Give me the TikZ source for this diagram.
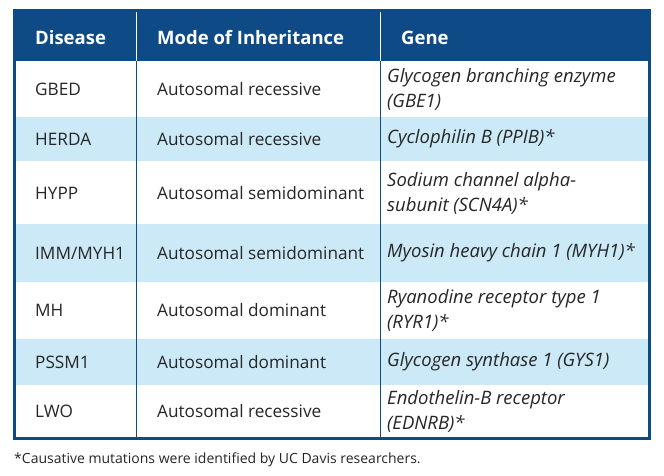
\documentclass[tikz,border=0pt]{standalone}
\usepackage{fontspec}
\setmainfont{Open Sans}
\definecolor{dblue}{HTML}{0E4A85}
\definecolor{lblue}{HTML}{CCE9F7}
\begin{document}
\begin{tikzpicture}[x=1pt,y=-1pt,
  cell/.style={anchor=west,font=\fontsize{17.2}{20}\selectfont,text=black!85,inner sep=0pt,align=left},
  head/.style={anchor=west,font=\fontsize{18.5}{20}\selectfont\bfseries,text=white,inner sep=0pt},
  gene/.style={cell,font=\fontsize{18.5}{25}\selectfont\itshape}]
\useasboundingbox (0,0) rectangle (664,476);
\fill[white] (0,0) rectangle (664,476);
\fill[dblue] (14,11) rectangle (650,61);
\fill[lblue] (14,117) rectangle (650,161);
\fill[lblue] (14,224) rectangle (650,282);
\fill[lblue] (14,339) rectangle (650,385);
\draw[dblue,line width=0.8pt] (136.5,11) -- (136.5,437) (380,11) -- (380,437);
\draw[white,line width=0.8pt] (136.5,11) -- (136.5,61) (380,11) -- (380,61);
\draw[dblue,line width=3pt] (14.5,11) rectangle (649.5,438);
\node[head] (h1) at (35,38) {Disease};
\node[head] (h2) at (157,38) {Mode of Inheritance};
\node[head] (h3) at (401,38) {Gene};
\foreach \y/\a/\b/\c [count=\i] in {
 89/GBED/Autosomal recessive/{Glycogen branching enzyme\\(GBE1)},
 139/HERDA/Autosomal recessive/{Cyclophilin B (PPIB)*},
 193/HYPP/Autosomal semidominant/{Sodium channel alpha-\\subunit (SCN4A)*},
 253/{IMM/MYH1}/Autosomal semidominant/{Myosin heavy chain 1 (MYH1)*},
 310/MH/Autosomal dominant/{Ryanodine receptor type 1\\(RYR1)*},
 362/PSSM1/Autosomal dominant/{Glycogen synthase 1 (GYS1)},
 411/LWO/Autosomal recessive/{Endothelin-B receptor\\(EDNRB)*}}{
  \node[cell] (d\i) at (35,\y) {\a};
  \node[cell] (m\i) at (157,\y) {\b};
  \node[gene] (g\i) at (387,\y) {\c};
}
\node[cell,font=\fontsize{14}{16}\selectfont] (fn) at (14,460) {*Causative mutations were identified by UC Davis researchers.};
\end{tikzpicture}
\end{document}
